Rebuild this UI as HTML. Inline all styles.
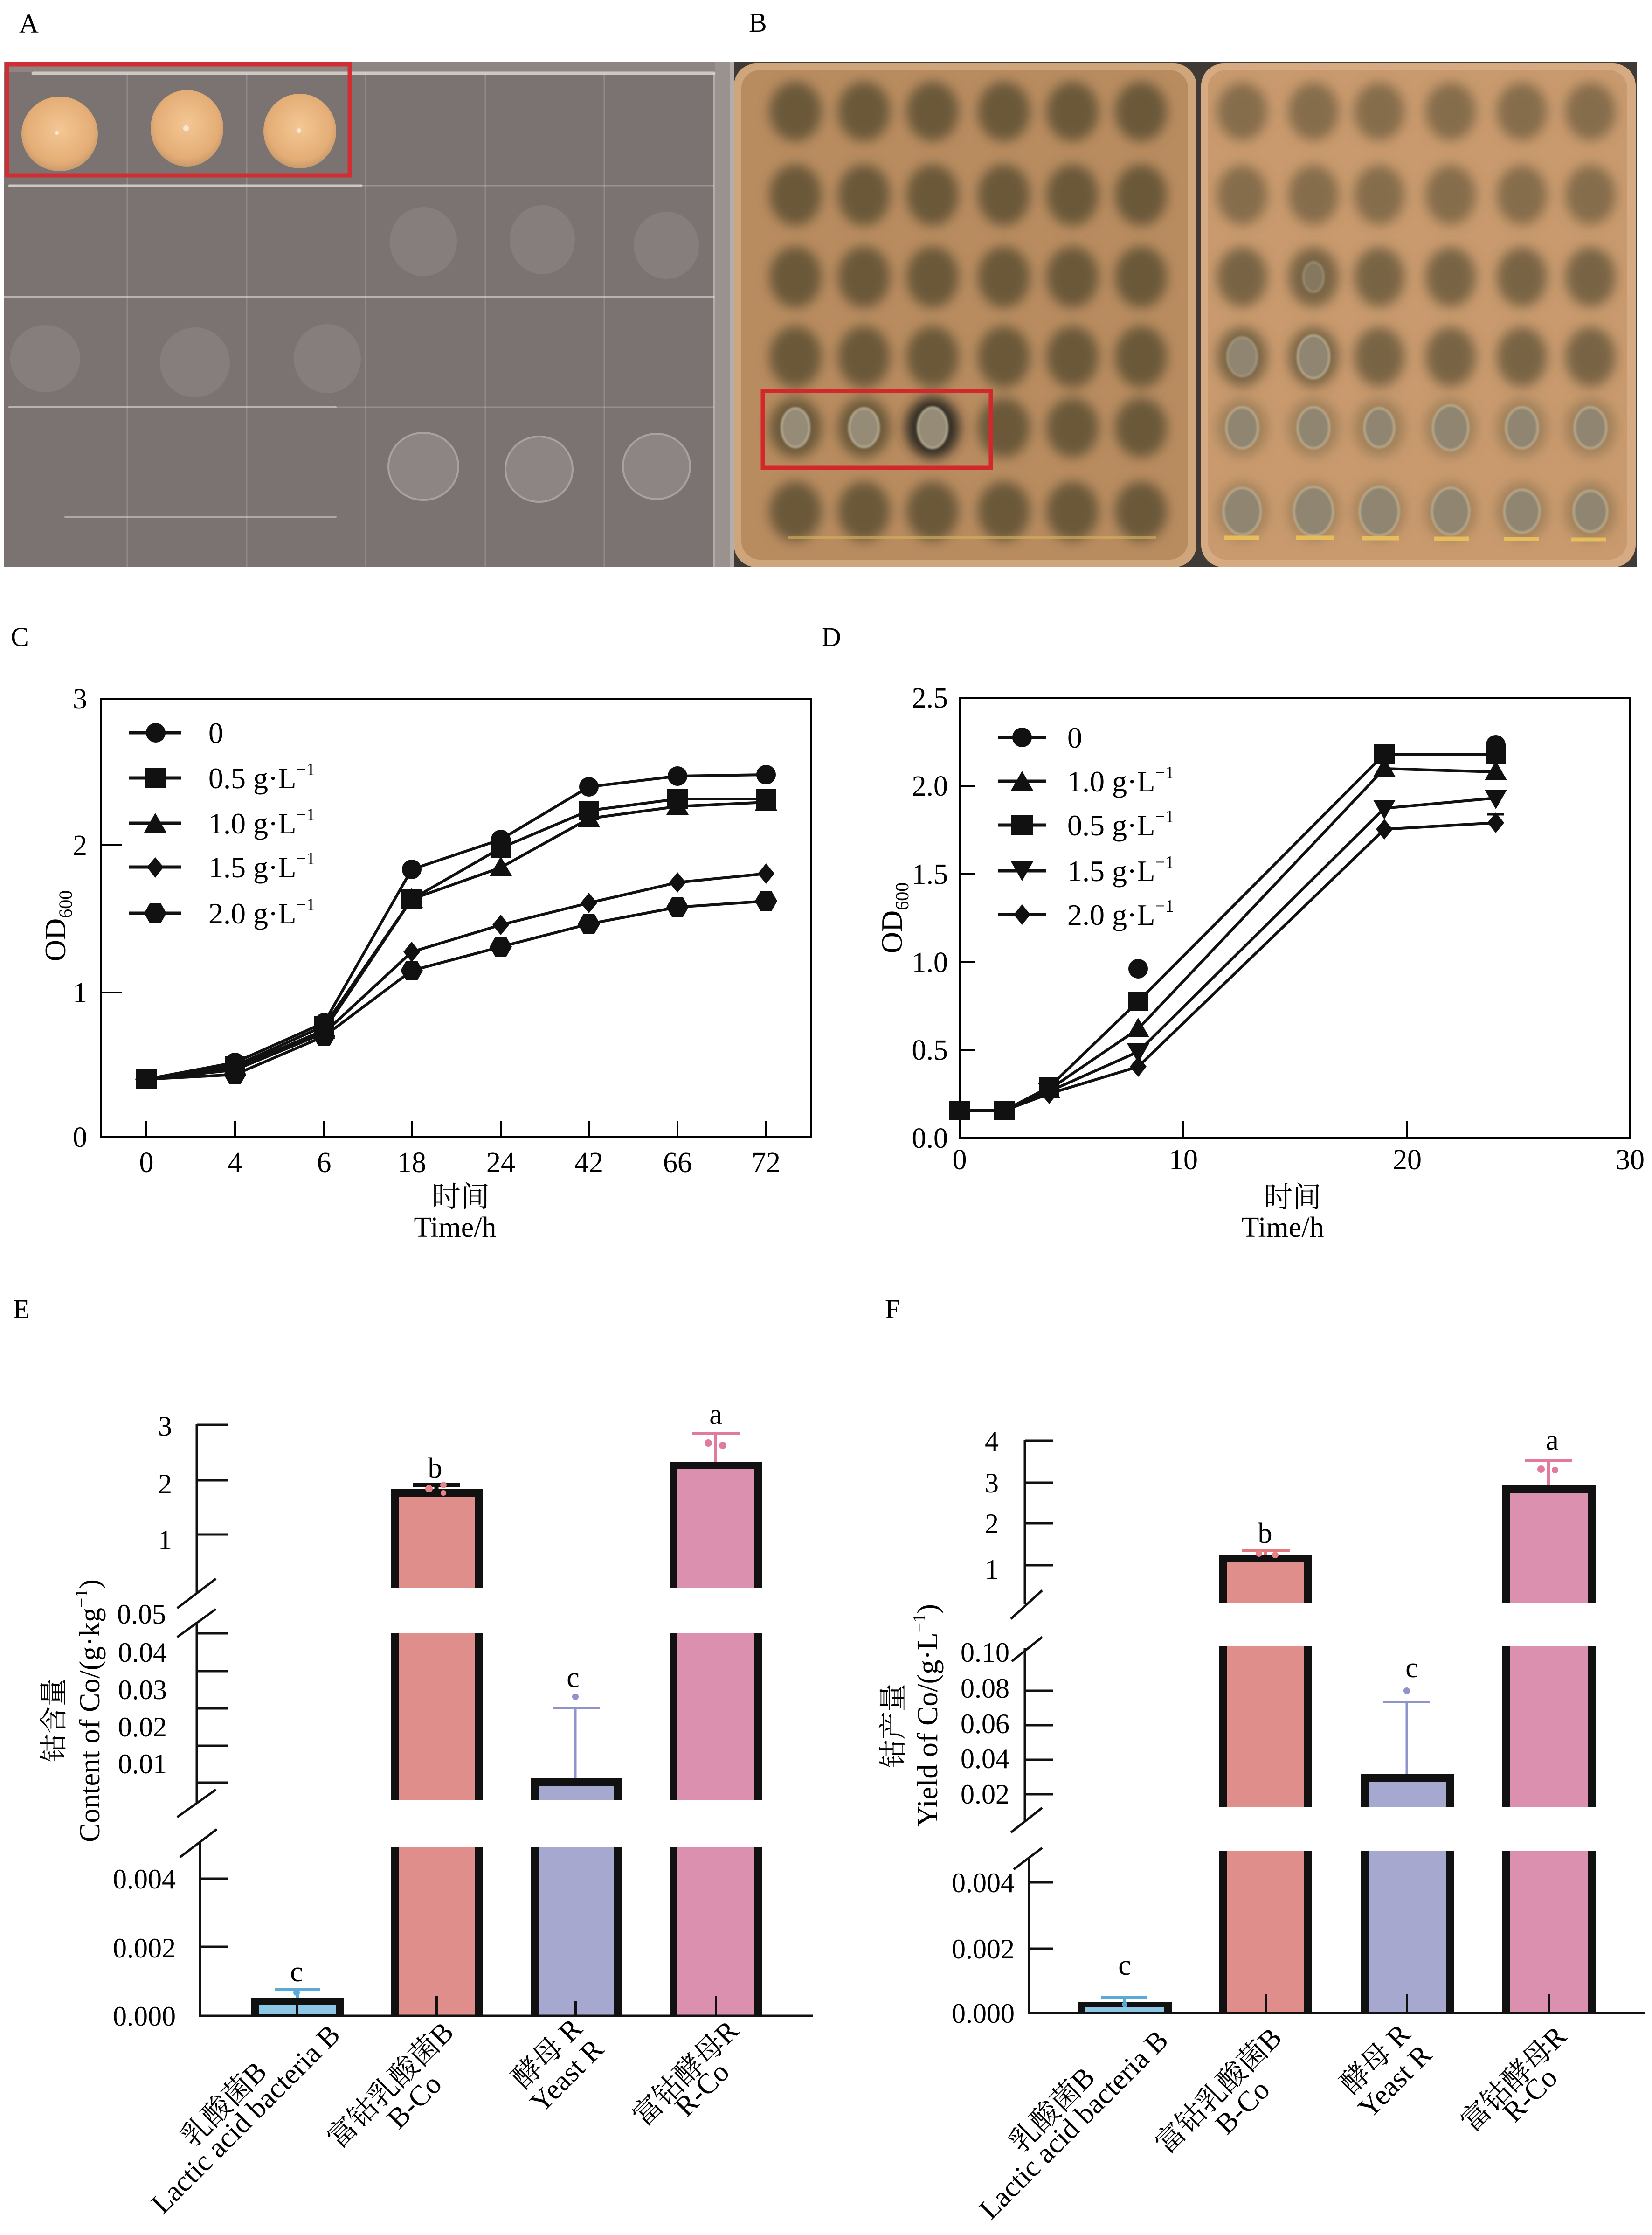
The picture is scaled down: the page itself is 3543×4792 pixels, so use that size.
<!DOCTYPE html>
<html><head><meta charset="utf-8">
<style>
html,body{margin:0;padding:0;background:#fff;}
svg{display:block;}
text{font-family:"Liberation Serif","Noto Serif CJK SC",serif;fill:#000;}
</style></head><body>
<svg width="3543" height="4792" viewBox="0 0 3543 4792" xmlns="http://www.w3.org/2000/svg">
<defs>
<filter id="bl" x="-60%" y="-60%" width="220%" height="220%"><feGaussianBlur stdDeviation="13"/></filter>
<filter id="bs" x="-30%" y="-30%" width="160%" height="160%"><feGaussianBlur stdDeviation="2"/></filter>
<radialGradient id="og" cx="50%" cy="45%" r="55%"><stop offset="0" stop-color="#f4c794"/><stop offset="0.8" stop-color="#e4ad76"/><stop offset="1" stop-color="#c99a6c"/></radialGradient>
<clipPath id="cA"><rect x="8" y="134" width="1558" height="1082"/></clipPath>
<clipPath id="cP1"><rect x="1590" y="150" width="958" height="1050" rx="40"/></clipPath>
<clipPath id="cP2"><rect x="2590" y="150" width="900" height="1050" rx="40"/></clipPath>
</defs>
<rect width="3543" height="4792" fill="#fff"/>

<!-- panel labels -->
<g font-size="58">
<text x="41" y="70">A</text>
<text x="1606" y="68">B</text>
<text x="23" y="1385">C</text>
<text x="1762" y="1385">D</text>
<text x="28" y="2826">E</text>
<text x="1898" y="2826">F</text>
</g>

<!-- ================= PHOTO A ================= -->
<g clip-path="url(#cA)">
<rect x="8" y="134" width="1558" height="1082" fill="#7b7371"/>
<rect x="8" y="134" width="1558" height="20" fill="#8e8582"/>
<rect x="1534" y="134" width="32" height="1082" fill="#9a928f"/>
<g stroke="#c9c2bd" stroke-opacity="0.28" stroke-width="3">
<line x1="273" y1="156" x2="273" y2="1216"/><line x1="529" y1="156" x2="529" y2="1216"/>
<line x1="784" y1="156" x2="784" y2="1216"/><line x1="1041" y1="156" x2="1041" y2="1216"/>
<line x1="1296" y1="156" x2="1296" y2="1216"/>
</g>
<line x1="1531" y1="156" x2="1531" y2="1216" stroke="#d8d1cc" stroke-opacity="0.6" stroke-width="4"/>
<g stroke="#e4ddd6" stroke-linecap="round">
<line x1="71" y1="157" x2="1531" y2="157" stroke-width="7" stroke-opacity="0.8"/>
<line x1="20" y1="398" x2="775" y2="398" stroke-width="5" stroke-opacity="0.8"/>
<line x1="775" y1="398" x2="1531" y2="398" stroke-width="3" stroke-opacity="0.3"/>
<line x1="8" y1="636" x2="1531" y2="636" stroke-width="4" stroke-opacity="0.6"/>
<line x1="20" y1="873" x2="720" y2="873" stroke-width="4" stroke-opacity="0.6"/>
<line x1="720" y1="873" x2="1531" y2="873" stroke-width="3" stroke-opacity="0.25"/>
<line x1="140" y1="1108" x2="720" y2="1108" stroke-width="4" stroke-opacity="0.5"/>
</g>
<ellipse cx="128" cy="287" rx="82" ry="80" fill="url(#og)"/>
<ellipse cx="401" cy="275" rx="78" ry="82" fill="url(#og)"/>
<ellipse cx="643" cy="281" rx="78" ry="80" fill="url(#og)"/>
<g fill="#fff" fill-opacity="0.6"><circle cx="122" cy="285" r="4"/><circle cx="399" cy="275" r="6"/><circle cx="641" cy="280" r="5"/></g>
<g fill="#8a8281" fill-opacity="0.75">
<ellipse cx="908" cy="518" rx="72" ry="74"/><ellipse cx="1163" cy="514" rx="70" ry="74"/><ellipse cx="1429" cy="526" rx="70" ry="72"/>
<ellipse cx="97" cy="769" rx="75" ry="72"/><ellipse cx="418" cy="777" rx="75" ry="75"/><ellipse cx="702" cy="769" rx="72" ry="74"/>
</g>
<g fill="#8d8583" stroke="#aaa29e" stroke-width="4">
<ellipse cx="908" cy="1000" rx="75" ry="72"/><ellipse cx="1156" cy="1006" rx="72" ry="70"/><ellipse cx="1408" cy="1000" rx="72" ry="70"/>
</g>
<rect x="15" y="138" width="735" height="238" fill="none" stroke="#d12d33" stroke-width="9"/>
</g>

<!-- ================= PHOTO B ================= -->
<rect x="1566" y="134" width="1944" height="1082" fill="#3f3a35"/>
<rect x="1566" y="134" width="8" height="1082" fill="#b4aeab"/>
<rect x="1574" y="136" width="992" height="1080" rx="48" fill="#cfa67c"/>
<rect x="2576" y="136" width="932" height="1080" rx="48" fill="#d6ab84"/>
<rect x="1590" y="150" width="958" height="1050" rx="40" fill="#b98c60"/>
<rect x="2590" y="150" width="900" height="1050" rx="40" fill="#c99a6e"/>
<g clip-path="url(#cP1)">
<g fill="#5c4f33" fill-opacity="0.85" filter="url(#bl)">
<ellipse cx="1706" cy="239" rx="56" ry="64"/><ellipse cx="1853" cy="239" rx="56" ry="64"/><ellipse cx="2000" cy="239" rx="56" ry="64"/><ellipse cx="2153" cy="239" rx="56" ry="64"/><ellipse cx="2300" cy="239" rx="56" ry="64"/><ellipse cx="2447" cy="239" rx="56" ry="64"/>
<ellipse cx="1706" cy="418" rx="56" ry="66"/><ellipse cx="1853" cy="418" rx="56" ry="66"/><ellipse cx="2000" cy="418" rx="56" ry="66"/><ellipse cx="2153" cy="418" rx="56" ry="66"/><ellipse cx="2300" cy="418" rx="56" ry="66"/><ellipse cx="2447" cy="418" rx="56" ry="66"/>
<ellipse cx="1706" cy="594" rx="56" ry="66"/><ellipse cx="1853" cy="594" rx="56" ry="66"/><ellipse cx="2000" cy="594" rx="56" ry="66"/><ellipse cx="2153" cy="594" rx="56" ry="66"/><ellipse cx="2300" cy="594" rx="56" ry="66"/><ellipse cx="2447" cy="594" rx="56" ry="66"/>
<ellipse cx="1706" cy="765" rx="56" ry="66"/><ellipse cx="1853" cy="765" rx="56" ry="66"/><ellipse cx="2000" cy="765" rx="56" ry="66"/><ellipse cx="2153" cy="765" rx="56" ry="66"/><ellipse cx="2300" cy="765" rx="56" ry="66"/><ellipse cx="2447" cy="765" rx="56" ry="66"/>
<ellipse cx="1706" cy="917" rx="56" ry="64"/><ellipse cx="1853" cy="917" rx="56" ry="64"/><ellipse cx="2153" cy="917" rx="56" ry="64"/><ellipse cx="2300" cy="917" rx="56" ry="64"/><ellipse cx="2447" cy="917" rx="56" ry="64"/>
<ellipse cx="1706" cy="1096" rx="56" ry="64"/><ellipse cx="1853" cy="1096" rx="56" ry="64"/><ellipse cx="2000" cy="1096" rx="56" ry="64"/><ellipse cx="2153" cy="1096" rx="56" ry="64"/><ellipse cx="2300" cy="1096" rx="56" ry="64"/><ellipse cx="2447" cy="1096" rx="56" ry="64"/>
</g>
<ellipse cx="2000" cy="917" rx="58" ry="66" fill="#2f2a22" filter="url(#bl)"/>
<g fill="#958b76" stroke="#c9bda4" stroke-width="3" filter="url(#bs)">
<ellipse cx="1706" cy="917" rx="30" ry="42"/><ellipse cx="1853" cy="917" rx="32" ry="42"/><ellipse cx="2000" cy="917" rx="32" ry="44"/>
</g>
<line x1="1690" y1="1152" x2="2480" y2="1152" stroke="#d6b45c" stroke-width="6" stroke-opacity="0.6"/>
</g>
<g clip-path="url(#cP2)">
<g fill="#6a5a3c" fill-opacity="0.7" filter="url(#bl)">
<ellipse cx="2664" cy="239" rx="54" ry="62"/><ellipse cx="2817" cy="239" rx="54" ry="62"/><ellipse cx="2958" cy="239" rx="54" ry="62"/><ellipse cx="3111" cy="239" rx="54" ry="62"/><ellipse cx="3264" cy="239" rx="54" ry="62"/><ellipse cx="3411" cy="239" rx="54" ry="62"/>
<ellipse cx="2664" cy="418" rx="54" ry="64"/><ellipse cx="2817" cy="418" rx="54" ry="64"/><ellipse cx="2958" cy="418" rx="54" ry="64"/><ellipse cx="3111" cy="418" rx="54" ry="64"/><ellipse cx="3264" cy="418" rx="54" ry="64"/><ellipse cx="3411" cy="418" rx="54" ry="64"/>
</g>
<g fill="#5e5236" fill-opacity="0.75" filter="url(#bl)">
<ellipse cx="2664" cy="594" rx="54" ry="64"/><ellipse cx="2817" cy="594" rx="54" ry="64"/><ellipse cx="2958" cy="594" rx="54" ry="64"/><ellipse cx="3111" cy="594" rx="54" ry="64"/><ellipse cx="3264" cy="594" rx="54" ry="64"/><ellipse cx="3411" cy="594" rx="54" ry="64"/>
<ellipse cx="2664" cy="765" rx="54" ry="64"/><ellipse cx="2817" cy="765" rx="54" ry="64"/><ellipse cx="2958" cy="765" rx="54" ry="64"/><ellipse cx="3111" cy="765" rx="54" ry="64"/><ellipse cx="3264" cy="765" rx="54" ry="64"/><ellipse cx="3411" cy="765" rx="54" ry="64"/>
</g>
<g fill="#7c6a48" fill-opacity="0.55" filter="url(#bl)">
<ellipse cx="2664" cy="917" rx="54" ry="62"/><ellipse cx="2817" cy="917" rx="54" ry="62"/><ellipse cx="2958" cy="917" rx="54" ry="62"/><ellipse cx="3111" cy="917" rx="54" ry="62"/><ellipse cx="3264" cy="917" rx="54" ry="62"/><ellipse cx="3411" cy="917" rx="54" ry="62"/>
<ellipse cx="2664" cy="1096" rx="54" ry="62"/><ellipse cx="2817" cy="1096" rx="54" ry="62"/><ellipse cx="2958" cy="1096" rx="54" ry="62"/><ellipse cx="3111" cy="1096" rx="54" ry="62"/><ellipse cx="3264" cy="1096" rx="54" ry="62"/><ellipse cx="3411" cy="1096" rx="54" ry="62"/>
</g>
<g fill="#8f8570" stroke="#c8bb9f" stroke-width="3" filter="url(#bs)">
<ellipse cx="2817" cy="594" rx="22" ry="32" fill-opacity="0.6" stroke-opacity="0.5"/>
<ellipse cx="2664" cy="765" rx="32" ry="42" stroke-opacity="0.6"/><ellipse cx="2817" cy="765" rx="34" ry="46"/>
<ellipse cx="2664" cy="917" rx="34" ry="44"/><ellipse cx="2817" cy="917" rx="34" ry="44"/><ellipse cx="2958" cy="917" rx="32" ry="42"/><ellipse cx="3111" cy="917" rx="38" ry="48"/><ellipse cx="3264" cy="917" rx="34" ry="44"/><ellipse cx="3411" cy="917" rx="34" ry="44"/>
<ellipse cx="2664" cy="1096" rx="40" ry="50"/><ellipse cx="2817" cy="1096" rx="42" ry="52"/><ellipse cx="2958" cy="1096" rx="42" ry="52"/><ellipse cx="3111" cy="1096" rx="40" ry="50"/><ellipse cx="3264" cy="1096" rx="38" ry="46"/><ellipse cx="3411" cy="1096" rx="36" ry="44"/>
</g>
<g stroke="#efc65a" stroke-width="9" stroke-opacity="0.85">
<line x1="2625" y1="1153" x2="2700" y2="1153"/><line x1="2780" y1="1153" x2="2860" y2="1153"/><line x1="2920" y1="1154" x2="3000" y2="1154"/><line x1="3075" y1="1155" x2="3150" y2="1155"/><line x1="3225" y1="1156" x2="3300" y2="1156"/><line x1="3370" y1="1157" x2="3445" y2="1157"/>
</g>
</g>
<rect x="1636" y="838" width="489" height="165" fill="none" stroke="#d3272c" stroke-width="9"/>

<!-- ================= PANEL C ================= -->
<g stroke="#000" stroke-width="4" fill="none">
<rect x="216" y="1498" width="1524" height="940"/>
<line x1="216" y1="1812" x2="262" y2="1812"/><line x1="216" y1="2128" x2="262" y2="2128"/>
<line x1="314" y1="2438" x2="314" y2="2404"/><line x1="504" y1="2438" x2="504" y2="2404"/><line x1="695" y1="2438" x2="695" y2="2404"/><line x1="883" y1="2438" x2="883" y2="2404"/><line x1="1074" y1="2438" x2="1074" y2="2404"/><line x1="1263" y1="2438" x2="1263" y2="2404"/><line x1="1453" y1="2438" x2="1453" y2="2404"/><line x1="1643" y1="2438" x2="1643" y2="2404"/>
</g>
<g font-size="62" text-anchor="end">
<text x="187" y="1519">3</text><text x="187" y="1833">2</text><text x="187" y="2149">1</text><text x="187" y="2459">0</text>
</g>
<g font-size="62" text-anchor="middle">
<text x="314" y="2513">0</text><text x="504" y="2513">4</text><text x="695" y="2513">6</text><text x="883" y="2513">18</text><text x="1074" y="2513">24</text><text x="1263" y="2513">42</text><text x="1453" y="2513">66</text><text x="1643" y="2513">72</text>
<text x="988" y="2587">时间</text>
<text x="976" y="2652">Time/h</text>
</g>
<text transform="translate(140,1985) rotate(-90)" font-size="64" text-anchor="middle">OD<tspan font-size="40" dy="14">600</tspan></text>
<g fill="none" stroke="#111" stroke-width="6" stroke-linejoin="round">
<polyline points="314,2314 504,2304 695,2222 883,2081 1074,2030 1263,1981 1453,1945 1643,1932"/>
<polyline points="314,2314 504,2294 695,2215 883,2041 1074,1983 1263,1936 1453,1892 1643,1873"/>
<polyline points="314,2314 504,2289 695,2209 883,1928 1074,1860 1263,1755 1453,1729 1643,1720"/>
<polyline points="314,2314 504,2278 695,2193 883,1864 1074,1800 1263,1687 1453,1664 1643,1661"/>
<polyline points="314,2314 504,2285 695,2200 883,1928 1074,1818 1263,1738 1453,1713 1643,1713"/>
</g>
<g fill="#111">
<polygon points="302,2293 326,2293 338,2314 326,2335 302,2335 290,2314"/>
<polygon points="492,2283 516,2283 528,2304 516,2325 492,2325 480,2304"/>
<polygon points="683,2201 707,2201 719,2222 707,2243 683,2243 671,2222"/>
<polygon points="871,2060 895,2060 907,2081 895,2102 871,2102 859,2081"/>
<polygon points="1062,2009 1086,2009 1098,2030 1086,2051 1062,2051 1050,2030"/>
<polygon points="1251,1960 1275,1960 1287,1981 1275,2002 1251,2002 1239,1981"/>
<polygon points="1441,1924 1465,1924 1477,1945 1465,1966 1441,1966 1429,1945"/>
<polygon points="1631,1911 1655,1911 1667,1932 1655,1953 1631,1953 1619,1932"/>
<polygon points="504,2272 522,2294 504,2316 486,2294"/>
<polygon points="695,2193 713,2215 695,2237 677,2215"/>
<polygon points="883,2019 901,2041 883,2063 865,2041"/>
<polygon points="1074,1961 1092,1983 1074,2005 1056,1983"/>
<polygon points="1263,1914 1281,1936 1263,1958 1245,1936"/>
<polygon points="1453,1870 1471,1892 1453,1914 1435,1892"/>
<polygon points="1643,1851 1661,1873 1643,1895 1625,1873"/>
<polygon points="504,2265 528,2307 480,2307"/>
<polygon points="695,2185 719,2227 671,2227"/>
<polygon points="883,1904 907,1946 859,1946"/>
<polygon points="1074,1836 1098,1878 1050,1878"/>
<polygon points="1263,1731 1287,1773 1239,1773"/>
<polygon points="1453,1705 1477,1747 1429,1747"/>
<polygon points="1643,1696 1667,1738 1619,1738"/>
<circle cx="504" cy="2278" r="21"/><circle cx="695" cy="2193" r="21"/><circle cx="883" cy="1864" r="21"/><circle cx="1074" cy="1800" r="21"/><circle cx="1263" cy="1687" r="21"/><circle cx="1453" cy="1664" r="21"/><circle cx="1643" cy="1661" r="21"/>
<rect x="292" y="2293" width="44" height="42"/><rect x="482" y="2264" width="44" height="42"/><rect x="673" y="2179" width="44" height="42"/><rect x="861" y="1907" width="44" height="42"/><rect x="1052" y="1797" width="44" height="42"/><rect x="1241" y="1717" width="44" height="42"/><rect x="1431" y="1692" width="44" height="42"/><rect x="1621" y="1692" width="44" height="42"/>
</g>
<g stroke="#111" stroke-width="7">
<line x1="277" y1="1571" x2="388" y2="1571"/><line x1="277" y1="1668" x2="388" y2="1668"/><line x1="277" y1="1765" x2="388" y2="1765"/><line x1="277" y1="1859" x2="388" y2="1859"/><line x1="277" y1="1958" x2="388" y2="1958"/>
</g>
<g fill="#111">
<circle cx="334" cy="1571" r="21"/>
<rect x="311" y="1647" width="46" height="42"/>
<polygon points="333,1743 357,1785 309,1785"/>
<polygon points="333,1838 351,1859 333,1882 315,1859"/>
<polygon points="321,1937 345,1937 357,1958 345,1979 321,1979 309,1958"/>
</g>
<g font-size="64">
<text x="447" y="1593">0</text>
<text x="447" y="1690">0.5 g·L<tspan font-size="38" dy="-28">−1</tspan></text>
<text x="447" y="1787">1.0 g·L<tspan font-size="38" dy="-28">−1</tspan></text>
<text x="447" y="1881">1.5 g·L<tspan font-size="38" dy="-28">−1</tspan></text>
<text x="447" y="1980">2.0 g·L<tspan font-size="38" dy="-28">−1</tspan></text>
</g>

<!-- ================= PANEL D ================= -->
<g stroke="#000" stroke-width="4" fill="none">
<rect x="2058" y="1496" width="1438" height="944"/>
<line x1="2058" y1="2251" x2="2092" y2="2251"/><line x1="2058" y1="2063" x2="2092" y2="2063"/><line x1="2058" y1="1874" x2="2092" y2="1874"/><line x1="2058" y1="1686" x2="2092" y2="1686"/>
<line x1="2538" y1="2440" x2="2538" y2="2404"/><line x1="3018" y1="2440" x2="3018" y2="2404"/>
</g>
<g font-size="62" text-anchor="end">
<text x="2033" y="1517">2.5</text><text x="2033" y="1706">2.0</text><text x="2033" y="1895">1.5</text><text x="2033" y="2084">1.0</text><text x="2033" y="2272">0.5</text><text x="2033" y="2461">0.0</text>
</g>
<g font-size="62" text-anchor="middle">
<text x="2058" y="2507">0</text><text x="2538" y="2507">10</text><text x="3018" y="2507">20</text><text x="3496" y="2507">30</text>
<text x="2772" y="2588">时间</text>
<text x="2751" y="2652">Time/h</text>
</g>
<text transform="translate(1934,1968) rotate(-90)" font-size="64" text-anchor="middle">OD<tspan font-size="40" dy="14">600</tspan></text>
<g fill="none" stroke="#111" stroke-width="6" stroke-linejoin="round">
<polyline points="2058,2381 2154,2381 2250,2345 2441,2287 2969,1778 3208,1764"/>
<polyline points="2058,2381 2154,2381 2250,2340 2441,2255 2969,1733 3208,1711"/>
<polyline points="2058,2381 2154,2381 2250,2336 2441,2206 2969,1648 3208,1655"/>
<polyline points="2058,2381 2154,2381 2250,2331 2441,2147 2969,1617 3208,1617"/>
</g>
<g fill="#111">
<circle cx="2441" cy="2077" r="21"/><circle cx="3208" cy="1597" r="21"/><circle cx="2250" cy="2333" r="20"/>
<polygon points="2250,2323 2268,2345 2250,2367 2232,2345"/>
<polygon points="2441,2265 2459,2287 2441,2309 2423,2287"/>
<polygon points="2969,1756 2987,1778 2969,1800 2951,1778"/>
<polygon points="3208,1742 3226,1764 3208,1786 3190,1764"/>
<polygon points="2226,2322 2274,2322 2250,2364"/>
<polygon points="2417,2237 2465,2237 2441,2279"/>
<polygon points="2945,1715 2993,1715 2969,1757"/>
<polygon points="3184,1693 3232,1693 3208,1735"/>
<polygon points="2250,2312 2274,2354 2226,2354"/>
<polygon points="2441,2182 2465,2224 2417,2224"/>
<polygon points="2969,1624 2993,1666 2945,1666"/>
<polygon points="3208,1631 3232,1673 3184,1673"/>
<rect x="2036" y="2360" width="44" height="42"/><rect x="2132" y="2360" width="44" height="42"/><rect x="2228" y="2310" width="44" height="42"/><rect x="2419" y="2126" width="44" height="42"/><rect x="2947" y="1596" width="44" height="42"/><rect x="3186" y="1596" width="44" height="42"/>
</g>
<line x1="3190" y1="1746" x2="3226" y2="1746" stroke="#111" stroke-width="5"/>
<g stroke="#111" stroke-width="7">
<line x1="2141" y1="1581" x2="2243" y2="1581"/><line x1="2141" y1="1675" x2="2243" y2="1675"/><line x1="2141" y1="1769" x2="2243" y2="1769"/><line x1="2141" y1="1867" x2="2243" y2="1867"/><line x1="2141" y1="1961" x2="2243" y2="1961"/>
</g>
<g fill="#111">
<circle cx="2192" cy="1581" r="21"/>
<polygon points="2192,1653 2216,1695 2168,1695"/>
<rect x="2169" y="1748" width="46" height="42"/>
<polygon points="2168,1847 2216,1847 2192,1889"/>
<polygon points="2192,1939 2210,1961 2192,1983 2174,1961"/>
</g>
<g font-size="64">
<text x="2289" y="1603">0</text>
<text x="2289" y="1697">1.0 g·L<tspan font-size="38" dy="-28">−1</tspan></text>
<text x="2289" y="1791">0.5 g·L<tspan font-size="38" dy="-28">−1</tspan></text>
<text x="2289" y="1889">1.5 g·L<tspan font-size="38" dy="-28">−1</tspan></text>
<text x="2289" y="1983">2.0 g·L<tspan font-size="38" dy="-28">−1</tspan></text>
</g>

<!-- ================= PANEL E ================= -->
<g>
<rect x="539" y="4284" width="199" height="38" fill="#111"/>
<rect x="556" y="4298" width="165" height="20" fill="#8cc8e6"/>
<rect x="635" y="4296" width="5" height="26" fill="#111"/>
<rect x="838" y="3193" width="198" height="212" fill="#111"/><rect x="855" y="3209" width="164" height="196" fill="#e08e8c"/>
<rect x="838" y="3502" width="198" height="357" fill="#111"/><rect x="855" y="3502" width="164" height="357" fill="#e08e8c"/>
<rect x="838" y="3960" width="198" height="362" fill="#111"/><rect x="855" y="3960" width="164" height="362" fill="#e08e8c"/>
<rect x="934" y="4280" width="5" height="42" fill="#111"/>
<rect x="1139" y="3813" width="195" height="46" fill="#111"/><rect x="1156" y="3829" width="161" height="30" fill="#a6a8cf"/>
<rect x="1139" y="3960" width="195" height="362" fill="#111"/><rect x="1156" y="3960" width="161" height="362" fill="#a6a8cf"/>
<rect x="1232" y="4290" width="5" height="32" fill="#111"/>
<rect x="1436" y="3134" width="199" height="271" fill="#111"/><rect x="1453" y="3150" width="165" height="255" fill="#dc90b0"/>
<rect x="1436" y="3502" width="199" height="357" fill="#111"/><rect x="1453" y="3502" width="165" height="357" fill="#dc90b0"/>
<rect x="1436" y="3960" width="199" height="362" fill="#111"/><rect x="1453" y="3960" width="165" height="362" fill="#dc90b0"/>
<rect x="1533" y="4280" width="5" height="42" fill="#111"/>
</g>
<g stroke-width="6" fill="none">
<path d="M638 4284 V4266 M590 4266 H687" stroke="#5aa9d6"/>
<path d="M936 3193 V3184 M886 3184 H987" stroke="#111" stroke-width="9"/>
<path d="M1234 3813 V3662 M1186 3662 H1286" stroke="#8e93cc" stroke-width="5"/>
<path d="M1535 3134 V3073 M1485 3073 H1586" stroke="#e2799f"/>
</g>
<g>
<circle cx="636" cy="4272" r="7" fill="#5aa9d6"/>
<circle cx="920" cy="3192" r="8" fill="#e6848a"/><circle cx="951" cy="3184" r="7" fill="#e6848a"/><circle cx="951" cy="3201" r="6" fill="#e6848a"/>
<circle cx="1234" cy="3638" r="7" fill="#8e93cc"/>
<circle cx="1519" cy="3094" r="8" fill="#e2799f"/><circle cx="1550" cy="3099" r="8" fill="#e2799f"/>
</g>
<g stroke="#111" stroke-width="5" fill="none">
<line x1="422" y1="3053" x2="422" y2="3416"/>
<line x1="422" y1="3478" x2="422" y2="3866"/>
<line x1="429" y1="3950" x2="429" y2="4324"/>
<line x1="427" y1="4322" x2="1743" y2="4322"/>
<line x1="422" y1="3055" x2="490" y2="3055"/><line x1="422" y1="3174" x2="490" y2="3174"/><line x1="422" y1="3290" x2="490" y2="3290"/>
<line x1="422" y1="3502" x2="490" y2="3502"/><line x1="422" y1="3583" x2="490" y2="3583"/><line x1="422" y1="3663" x2="490" y2="3663"/><line x1="422" y1="3743" x2="490" y2="3743"/><line x1="422" y1="3822" x2="490" y2="3822"/>
<line x1="429" y1="4028" x2="490" y2="4028"/><line x1="429" y1="4174" x2="490" y2="4174"/>
<line x1="380" y1="3448" x2="463" y2="3385"/>
<line x1="380" y1="3510" x2="463" y2="3450"/>
<line x1="380" y1="3896" x2="463" y2="3837"/>
<line x1="386" y1="3982" x2="465" y2="3922"/>
</g>
<g font-size="60" text-anchor="end">
<text x="369" y="3078">3</text><text x="369" y="3202">2</text><text x="369" y="3322">1</text>
<text x="356" y="3481">0.05</text><text x="358" y="3563">0.04</text><text x="358" y="3643">0.03</text><text x="358" y="3723">0.02</text><text x="358" y="3802">0.01</text>
<text x="377" y="4049">0.004</text><text x="377" y="4197">0.002</text><text x="377" y="4343">0.000</text>
</g>
<g font-size="62" text-anchor="middle">
<text x="636" y="4248">c</text><text x="933" y="3168">b</text><text x="1229" y="3617">c</text><text x="1535" y="3053">a</text>
</g>
<text transform="translate(136,3688) rotate(-90)" font-size="60" text-anchor="middle">钴含量</text>
<text transform="translate(213,3668) rotate(-90)" font-size="62" text-anchor="middle">Content of Co/(g·kg<tspan font-size="38" dy="-26">−1</tspan><tspan dy="26">)</tspan></text>
<g font-size="62" text-anchor="middle">
<text transform="translate(495,4526) rotate(-45)">乳酸菌B</text>
<text transform="translate(541,4558) rotate(-45)">Lactic acid bacteria B</text>
<text transform="translate(852,4485) rotate(-45)">富钴乳酸菌B</text>
<text transform="translate(903,4520) rotate(-45)">B-Co</text>
<text transform="translate(1188,4417) rotate(-45)">酵母 R</text>
<text transform="translate(1230,4465) rotate(-45)">Yeast R</text>
<text transform="translate(1485,4460) rotate(-45)">富钴酵母R</text>
<text transform="translate(1520,4494) rotate(-45)">R-Co</text>
</g>

<!-- ================= PANEL F ================= -->
<g>
<rect x="2311" y="4292" width="203" height="24" fill="#111"/>
<rect x="2328" y="4303" width="169" height="10" fill="#8cc8e6"/>
<rect x="2614" y="3334" width="200" height="102" fill="#111"/><rect x="2631" y="3350" width="166" height="86" fill="#e08e8c"/>
<rect x="2614" y="3529" width="200" height="345" fill="#111"/><rect x="2631" y="3529" width="166" height="345" fill="#e08e8c"/>
<rect x="2614" y="3969" width="200" height="347" fill="#111"/><rect x="2631" y="3969" width="166" height="347" fill="#e08e8c"/>
<rect x="2712" y="4276" width="5" height="40" fill="#111"/>
<rect x="2918" y="3804" width="200" height="70" fill="#111"/><rect x="2935" y="3820" width="166" height="54" fill="#a6a8cf"/>
<rect x="2918" y="3969" width="200" height="347" fill="#111"/><rect x="2935" y="3969" width="166" height="347" fill="#a6a8cf"/>
<rect x="3015" y="4276" width="5" height="40" fill="#111"/>
<rect x="3221" y="3185" width="201" height="251" fill="#111"/><rect x="3238" y="3201" width="167" height="235" fill="#dc90b0"/>
<rect x="3221" y="3529" width="201" height="345" fill="#111"/><rect x="3238" y="3529" width="167" height="345" fill="#dc90b0"/>
<rect x="3221" y="3969" width="201" height="347" fill="#111"/><rect x="3238" y="3969" width="167" height="347" fill="#dc90b0"/>
<rect x="3319" y="4276" width="5" height="40" fill="#111"/>
</g>
<g stroke-width="6" fill="none">
<path d="M2412 4292 V4282 M2362 4282 H2460" stroke="#5aa9d6"/>
<path d="M2714 3334 V3324 M2663 3324 H2767" stroke="#e2797f"/>
<path d="M3017 3804 V3649 M2966 3649 H3067" stroke="#8e93cc" stroke-width="5"/>
<path d="M3321 3185 V3131 M3270 3131 H3371" stroke="#e2799f"/>
</g>
<g>
<circle cx="2412" cy="4298" r="6" fill="#5aa9d6"/>
<circle cx="2700" cy="3331" r="7" fill="#e6848a"/><circle cx="2735" cy="3334" r="7" fill="#e6848a"/>
<circle cx="3017" cy="3625" r="7" fill="#8e93cc"/>
<circle cx="3305" cy="3150" r="8" fill="#e2799f"/><circle cx="3335" cy="3152" r="7" fill="#e2799f"/>
</g>
<g stroke="#111" stroke-width="5" fill="none">
<line x1="2198" y1="3087" x2="2198" y2="3440"/>
<line x1="2198" y1="3533" x2="2198" y2="3905"/>
<line x1="2207" y1="3985" x2="2207" y2="4318"/>
<line x1="2205" y1="4316" x2="3528" y2="4316"/>
<line x1="2198" y1="3089" x2="2258" y2="3089"/><line x1="2198" y1="3179" x2="2258" y2="3179"/><line x1="2198" y1="3266" x2="2258" y2="3266"/><line x1="2198" y1="3356" x2="2258" y2="3356"/>
<line x1="2198" y1="3625" x2="2258" y2="3625"/><line x1="2198" y1="3699" x2="2258" y2="3699"/><line x1="2198" y1="3773" x2="2258" y2="3773"/><line x1="2198" y1="3847" x2="2258" y2="3847"/>
<line x1="2207" y1="4036" x2="2258" y2="4036"/><line x1="2207" y1="4178" x2="2258" y2="4178"/>
<line x1="2168" y1="3471" x2="2235" y2="3410"/>
<line x1="2170" y1="3562" x2="2235" y2="3510"/>
<line x1="2168" y1="3929" x2="2235" y2="3876"/>
<line x1="2174" y1="4008" x2="2235" y2="3962"/>
</g>
<g font-size="60" text-anchor="end">
<text x="2142" y="3110">4</text><text x="2142" y="3200">3</text><text x="2142" y="3287">2</text><text x="2142" y="3385">1</text>
<text x="2165" y="3563">0.10</text><text x="2165" y="3640">0.08</text><text x="2165" y="3716">0.06</text><text x="2165" y="3791">0.04</text><text x="2165" y="3867">0.02</text>
<text x="2176" y="4057">0.004</text><text x="2176" y="4199">0.002</text><text x="2176" y="4337">0.000</text>
</g>
<g font-size="62" text-anchor="middle">
<text x="2412" y="4234">c</text><text x="2713" y="3308">b</text><text x="3028" y="3596">c</text><text x="3329" y="3108">a</text>
</g>
<text transform="translate(1936,3700) rotate(-90)" font-size="60" text-anchor="middle">钴产量</text>
<text transform="translate(2010,3678) rotate(-90)" font-size="62" text-anchor="middle">Yield of Co/(g·L<tspan font-size="38" dy="-26">−1</tspan><tspan dy="26">)</tspan></text>
<g font-size="62" text-anchor="middle">
<text transform="translate(2271,4538) rotate(-45)">乳酸菌B</text>
<text transform="translate(2317,4570) rotate(-45)">Lactic acid bacteria B</text>
<text transform="translate(2628,4497) rotate(-45)">富钴乳酸菌B</text>
<text transform="translate(2679,4532) rotate(-45)">B-Co</text>
<text transform="translate(2964,4429) rotate(-45)">酵母 R</text>
<text transform="translate(3006,4477) rotate(-45)">Yeast R</text>
<text transform="translate(3261,4472) rotate(-45)">富钴酵母R</text>
<text transform="translate(3296,4506) rotate(-45)">R-Co</text>
</g>
</svg>
</body></html>
